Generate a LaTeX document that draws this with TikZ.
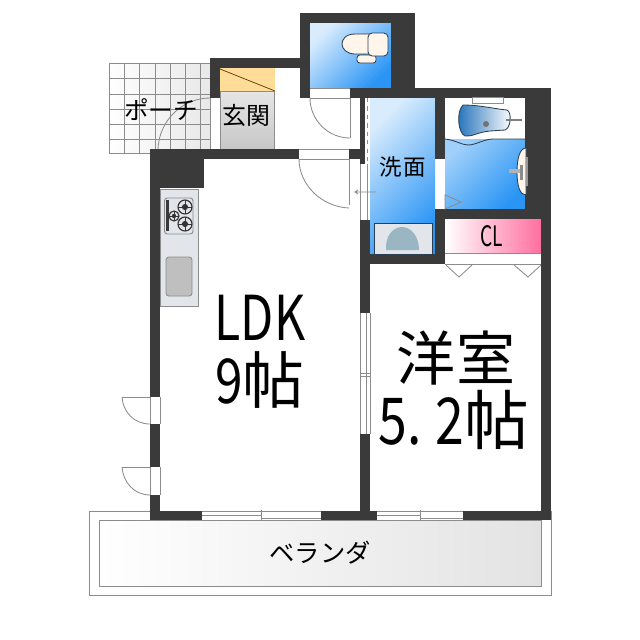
\documentclass[tikz,border=0pt]{standalone}
\usepackage{fontspec}
\setmainfont{Noto Sans CJK JP}
\definecolor{wallc}{HTML}{3A3A3A}
\definecolor{linec}{HTML}{8C8C8C}
\definecolor{bluec}{HTML}{2A95F5}
\definecolor{pinkc}{HTML}{FF6F9F}
\definecolor{orangec}{HTML}{FFDD99}
\definecolor{fixc}{HTML}{E2E6EA}
\definecolor{outc}{HTML}{2B3F52}
\tikzset{
  wall/.style={fill=wallc,draw=none},
  thin line/.style={draw=linec,line width=0.6pt},
  blue floor/.style={top color=bluec!18,bottom color=bluec,shading angle=45},
  fixture/.style={fill=fixc,draw=linec,line width=0.7pt},
  ware/.style={fill=white!92!orange,draw=outc,line width=0.6pt},
  room/.style={inner sep=0pt,text=black}
}
\begin{document}
\begin{tikzpicture}[x=0.025cm,y=-0.025cm]
    \useasboundingbox (0,0) rectangle (640,640);
    \fill[white] (0,0) rectangle (640,640);
    % balcony
    \draw[thin line] (89,511) rectangle (551,595);
    \shade[left color=white,right color=black!11,thin line] (99,520) rectangle (541,586);
    % porch tiles
    \shade[left color=white,right color=black!9] (109,63) rectangle (210,153);
    \foreach \x in {109,124,139,155,170,185,200} \draw[thin line] (\x,63)--(\x,153);
    \foreach \y in {63,78,94,109,124,139,153} \draw[thin line] (109,\y)--(210,\y);
    \fill[white] (210,98) rectangle (220,149);
    \draw[thin line] (210,98)--(210,149);
    \draw[thin line] (210,98) .. controls (182,98) and (159,121) .. (158,149);
    % entrance
    \shade[top color=white!90!black,bottom color=black!22,thin line] (220,91) rectangle (274,149);
    \fill[orangec] (220,68) rectangle (275,91);
    \draw[thin line] (220,91)--(275,91);
    \draw[black!60!orange,line width=0.5pt] (220,69)--(275,91);
    % wet rooms
    \shade[blue floor] (310,23) rectangle (391,88);
    \shade[blue floor] (370,98) rectangle (435,254);
    \shade[top color=bluec!45,bottom color=bluec,shading angle=45] (445,139) rectangle (525,209);
    \shade[left color=white,right color=pinkc] (445,219) rectangle (541,253);
    \draw[thin line] (445,253)--(541,253) (445,264)--(541,264);
    % walls
    \fill[wall] (300,13) rectangle (415,23);
    \fill[wall] (300,13) rectangle (310,98);
    \fill[wall] (391,13) rectangle (415,88);
    \fill[wall] (350,88) rectangle (551,98);
    \fill[wall] (210,58) rectangle (300,68);
    \fill[wall] (210,58) rectangle (220,98);
    \fill[wall] (150,149) rectangle (299,159);
    \fill[wall] (349,149) rectangle (365,159);
    \fill[wall] (150,149) rectangle (204,188);
    \fill[wall] (150,149) rectangle (160,397);
    \fill[wall] (150,424) rectangle (160,467);
    \fill[wall] (150,495) rectangle (160,520);
    \fill[wall] (150,511) rectangle (202,520);
    \fill[wall] (321,511) rectangle (377,520);
    \fill[wall] (463,511) rectangle (551,520);
    \fill[wall] (360,98) rectangle (365,164);
    \fill[wall] (360,220) rectangle (370,313);
    \fill[wall] (360,434) rectangle (370,520);
    \fill[wall] (360,254) rectangle (445,264);
    \fill[wall] (435,98) rectangle (445,159);
    \fill[wall] (435,209) rectangle (445,264);
    \fill[wall] (445,209) rectangle (541,219);
    \fill[wall] (525,98) rectangle (551,219);
    \fill[wall] (541,219) rectangle (551,520);
    % doors
    \draw[thin line] (310,88)--(350,88) (310,98)--(350,98)--(350,138);
    \draw[thin line] (310,98) .. controls (310,120) and (328,138) .. (350,138);
    \draw[thin line] (299,149)--(349,149) (299,159)--(349,159)--(349,205);
    \draw[thin line] (299,159) .. controls (299,185) and (322,207) .. (349,208);
    \draw[thin line] (150,397)--(122,397) (150,397)--(150,424) (160,397)--(160,424);
    \draw[thin line] (122,397) .. controls (123,412) and (134,424) .. (150,424);
    \draw[thin line] (150,467)--(122,467) (150,467)--(150,495) (160,467)--(160,495);
    \draw[thin line] (122,467) .. controls (123,482) and (134,495) .. (150,495);
    \draw[thin line] (445,195)--(461,202)--(445,209)--cycle;
    \draw[thin line] (446,265)--(459,277)--(472,265);
    \draw[thin line] (514,265)--(528,277)--(541,265);
    % sliding doors and windows
    \draw[thin line] (360,164)--(360,220) (367,164)--(367,220);
    \draw[thin line,dashed] (367,98)--(367,164);
    \draw[thin line] (355,192)--(376,192) (358,190)--(355,192)--(358,194);
    \draw[thin line] (360,313)--(360,434) (366,313)--(366,434) (370,313)--(370,434) (361,373)--(370,373) (361,376)--(370,376);
    \draw[thin line] (202,511)--(321,511) (202,515)--(261,515) (261,518)--(321,518) (202,520)--(321,520) (261,510)--(261,520);
    \draw[thin line] (377,511)--(463,511) (377,515)--(420,515) (420,518)--(463,518) (377,520)--(463,520) (420,510)--(420,520);
    % kitchen
    \draw[fixture] (160,189) rectangle (198,306);
    \draw[fixture,rounded corners=2pt] (164.5,198) rectangle (193,234);
    \fill[wallc] (166,200) rectangle (169,231);
    \foreach \x/\y/\r in {185/207/7,185/224/7,174/216/5}{
      \draw[black!80,line width=0.8pt] (\x,\y) circle[radius=\r*0.025cm];
      \fill[black!80] (\x,\y) circle[radius=\r*0.011cm];
      \draw[black!80,line width=0.4pt] (\x-\r,\y)--(\x+\r,\y) (\x,\y-\r)--(\x,\y+\r);
    }
    \draw[thin line,fill=black!25,rounded corners=2pt] (166,257) rectangle (192,296);
    % toilet
    \draw[ware] (375,34) -- (355,34) .. controls (345,34) and (342,40) .. (342,44) .. controls (342,49) and (347,54) .. (355,54) -- (375,54) -- cycle;
    \draw[ware,rounded corners=2pt] (357,55) rectangle (376,63);
    \draw[ware,rounded corners=3pt] (368,33) rectangle (388,56);
    % bath
    \draw[thin line,fill=white] (472,97) rectangle (503,103);
    \shade[left color=bluec!75!black,right color=white,draw=outc,line width=0.6pt]
      (463,105) .. controls (480,105) and (495,109) .. (507,110) .. controls (512,112) and (511,128) .. (505,130) -- (490,131) .. controls (478,132) and (472,137) .. (465,136) .. controls (458,133) and (456,112) .. (463,105) -- cycle;
    \fill[black!55] (486,124) circle[radius=0.075cm];
    \draw[black!50,line width=1.5pt] (506,120)--(522,120);
    \draw[outc,line width=0.6pt] (445,139) .. controls (455,140) and (462,145) .. (468,145) .. controls (476,145) and (484,139) .. (493,139) -- (525,139);
    \draw[ware] (526,148) .. controls (520,148) and (517,158) .. (517,172) .. controls (517,186) and (520,195) .. (526,195) -- cycle;
    \draw[black!40,line width=1pt] (527,157)--(527,186);
    \fill[black!30] (509,169) rectangle (523,173);
    \fill[black!45] (520,165) rectangle (523,180);
    % washroom
    \draw[fill=fixc,draw=outc,line width=0.6pt] (374,223) rectangle (432,254);
    \fill[fill=cyan!30!gray!75] (386,250) .. controls (385,236) and (393,227) .. (402,227) .. controls (411,227) and (419,236) .. (419,250) -- cycle;
    % labels
    \node[room,font=\fontsize{17.5}{18}\selectfont] (a) at (161,110) {ポーチ};
    \node[room,font=\fontsize{17}{17}\selectfont] (b) at (246,115) {玄関};
    \node[room,font=\fontsize{16}{17}\selectfont] (c) at (403,167) {洗\hspace{1pt}面};
    \node[room,font=\fontsize{20}{20}\selectfont] (d) at (492,236) {\scalebox{0.68}[1]{CL}};
    \node[room,font=\fontsize{44}{44}\selectfont] (e) at (260,318) {\scalebox{0.78}[1]{LDK}};
    \node[room,font=\fontsize{44}{44}\selectfont] (f) at (260,380) {\scalebox{0.8}[1]{9}帖};
    \node[room,font=\fontsize{42}{42}\selectfont] (g) at (456,358) {洋室};
    \node[room,font=\fontsize{46}{46}\selectfont] (h) at (454,420) {\scalebox{0.8}[1]{5.\hspace{12pt}2}帖};
    \node[room,font=\fontsize{18}{18}\selectfont] (i) at (320,553) {ベランダ};
\end{tikzpicture}
\end{document}
